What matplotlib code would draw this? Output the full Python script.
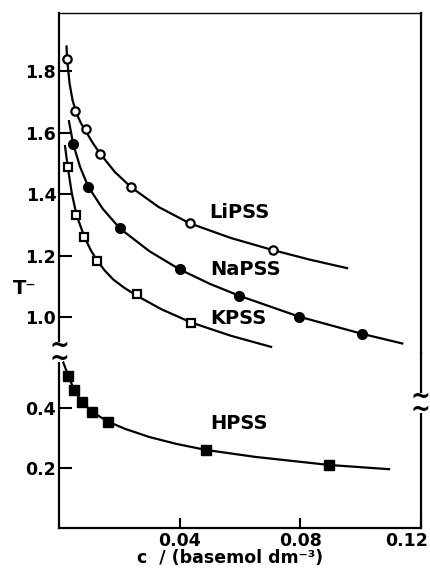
"""
Titration curve T- vs concentration for the alkali / acid polystyrene sulfonates.

Broken y axis: the HPSS branch sits far below the other three, so the figure
uses two stacked axes sharing the concentration scale.

Saves:
    out.png
"""

import matplotlib

matplotlib.use("Agg")
import matplotlib.pyplot as plt
import matplotlib.transforms as mtransforms
from matplotlib.patches import Rectangle


# measured points (c in basemol dm-3)
LI_C = [0.0027, 0.0053, 0.0088, 0.0136, 0.0238, 0.0433, 0.0708]
LI_T = [1.838, 1.670, 1.612, 1.529, 1.422, 1.305, 1.218]

NA_C = [0.0047, 0.0097, 0.0202, 0.0400, 0.0598, 0.0797, 0.1006]
NA_T = [1.563, 1.424, 1.288, 1.155, 1.069, 1.001, 0.945]

K_C = [0.0029, 0.0058, 0.0084, 0.0125, 0.0257, 0.0439]
K_T = [1.489, 1.332, 1.261, 1.183, 1.074, 0.980]

H_C = [0.0031, 0.0050, 0.0075, 0.0108, 0.0163, 0.0488, 0.0896]
H_T = [0.507, 0.460, 0.421, 0.388, 0.354, 0.260, 0.210]

# drawn fit curves
LI_FIT_C = [0.0025, 0.0027, 0.0035, 0.0045, 0.0058, 0.0073, 0.0088, 0.0112,
            0.0136, 0.0185, 0.0238, 0.0330, 0.0433, 0.0570, 0.0708, 0.0830, 0.0955]
LI_FIT_T = [1.880, 1.838, 1.760, 1.705, 1.662, 1.630, 1.606, 1.566,
            1.532, 1.472, 1.423, 1.358, 1.305, 1.257, 1.218, 1.187, 1.159]

NA_FIT_C = [0.0033, 0.0047, 0.0070, 0.0097, 0.0145, 0.0202, 0.0300, 0.0400,
            0.0500, 0.0598, 0.0797, 0.1006, 0.1138]
NA_FIT_T = [1.637, 1.563, 1.488, 1.424, 1.352, 1.288, 1.214, 1.155,
            1.108, 1.069, 1.001, 0.945, 0.914]

K_FIT_C = [0.0020, 0.0029, 0.0042, 0.0058, 0.0084, 0.0105, 0.0125, 0.0150,
           0.0180, 0.0215, 0.0257, 0.0340, 0.0439, 0.0570, 0.0703]
K_FIT_T = [1.556, 1.489, 1.405, 1.332, 1.261, 1.218, 1.186, 1.153,
           1.122, 1.096, 1.070, 1.025, 0.982, 0.939, 0.903]

H_FIT_C = [0.0014, 0.0031, 0.0050, 0.0075, 0.0108, 0.0163, 0.0220, 0.0300,
           0.0390, 0.0488, 0.0650, 0.0896, 0.1094]
H_FIT_T = [0.552, 0.507, 0.460, 0.421, 0.388, 0.354, 0.330, 0.303,
           0.280, 0.260, 0.237, 0.210, 0.196]

X_TICKS = [0.04, 0.08, 0.12]
X_TICK_LABELS = ["0.04", "0.08", "0.12"]
UPPER_Y_TICKS = [1.0, 1.2, 1.4, 1.6, 1.8]
UPPER_Y_LABELS = ["1.0", "1.2", "1.4", "1.6", "1.8"]
LOWER_Y_TICKS = [0.2, 0.4]
LOWER_Y_LABELS = ["0.2", "0.4"]

# series name, label position (c, T)
LABELS = [
    ("LiPSS", 0.0499, 1.339),
    ("NaPSS", 0.0501, 1.153),
    ("KPSS", 0.0501, 0.996),
]
HPSS_LABEL = ("HPSS", 0.0501, 0.349)


def style_axis(ax):
    ax.set_xlim(0, 0.12)
    for side in ["left", "right", "bottom", "top"]:
        ax.spines[side].set_linewidth(1.6)
    ax.spines["top"].set_linewidth(1.0)
    ax.tick_params(axis="both", direction="in", width=1.5, labelsize=12.5)
    ax.tick_params(axis="y", length=9, pad=2)
    ax.tick_params(axis="x", length=7, pad=3)


def draw_break(fig, x_px, y_px):
    """
    Two stacked tildes over the spine, with the spine blanked behind them.
    """
    fig.patches.append(Rectangle(((x_px - 4) / 430, 1 - (y_px + 10) / 574), 8 / 430, 20 / 574,
                                 transform=fig.transFigure, facecolor="white",
                                 edgecolor="none", zorder=5))
    fig.text(x_px / 430, 1 - y_px / 574, "~\n~", fontsize=17, fontweight="bold",
             ha="center", va="center", linespacing=0.45, zorder=6)


def main():
    plt.rcParams["font.family"] = ["DejaVu Sans"]
    plt.rcParams["font.weight"] = "bold"

    fig = plt.figure(figsize=(4.3, 5.74), dpi=100)

    ax_top = fig.add_axes([0.1372, 0.385, 0.8419, 0.5924])
    ax_bot = fig.add_axes([0.1372, 0.0801, 0.8419, 0.3049])

    style_axis(ax_top)
    style_axis(ax_bot)

    ax_top.set_ylim(0.883, 1.989)
    ax_top.spines["bottom"].set_visible(False)
    ax_top.set_xticks([])
    ax_top.set_yticks(UPPER_Y_TICKS)
    ax_top.set_yticklabels(UPPER_Y_LABELS)

    ax_bot.set_ylim(0, 0.583)
    ax_bot.spines["top"].set_visible(False)
    ax_bot.set_xticks(X_TICKS)
    ax_bot.set_xticklabels(X_TICK_LABELS)
    ax_bot.set_yticks(LOWER_Y_TICKS)
    ax_bot.set_yticklabels(LOWER_Y_LABELS)

    # last x label sits inside the frame, like in the original
    last_label = ax_bot.get_xticklabels()[-1]
    last_label.set_transform(last_label.get_transform() +
                             mtransforms.ScaledTranslation(-14 / 100, 0, fig.dpi_scale_trans))

    line_kw = dict(color="black", lw=1.6, zorder=2)

    ax_top.plot(LI_FIT_C, LI_FIT_T, **line_kw)
    ax_top.plot(NA_FIT_C, NA_FIT_T, **line_kw)
    ax_top.plot(K_FIT_C, K_FIT_T, **line_kw)
    ax_bot.plot(H_FIT_C, H_FIT_T, **line_kw)

    ax_top.plot(LI_C, LI_T, "o", ms=6, mfc="white", mec="black", mew=1.6, zorder=3)
    ax_top.plot(NA_C, NA_T, "o", ms=7, mfc="black", mec="black", zorder=3)
    ax_top.plot(K_C, K_T, "s", ms=5.5, mfc="white", mec="black", mew=1.6, zorder=3)
    ax_bot.plot(H_C, H_T, "s", ms=6.5, mfc="black", mec="black", zorder=3)

    for name, c, t in LABELS:
        ax_top.text(c, t, name, fontsize=14, fontweight="bold", ha="left", va="center")
    name, c, t = HPSS_LABEL
    ax_bot.text(c, t, name, fontsize=14, fontweight="bold", ha="left", va="center")

    draw_break(fig, 59, 352)
    draw_break(fig, 420, 403)

    fig.text(13 / 430, 1 - 288 / 574, "T\u207b", fontsize=14, fontweight="bold",
             ha="left", va="center")
    fig.text(230 / 430, 1 - 558 / 574, "c  / (basemol dm\u207b\u00b3)", fontsize=12.5,
             fontweight="bold", ha="center", va="center")

    fig.savefig("out.png", dpi=100)
    plt.close(fig)


if __name__ == "__main__":
    main()
